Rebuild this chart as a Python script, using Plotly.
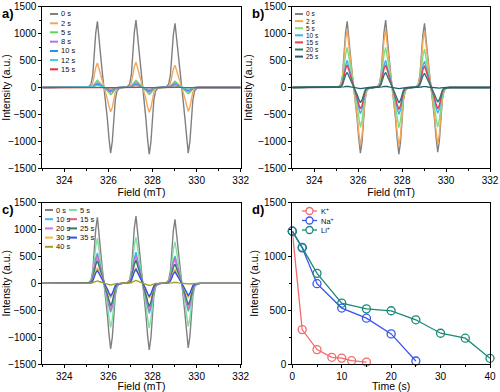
import plotly.graph_objects as go

# ---------------- data ----------------
FIELD_RANGE = [323, 332]
LINE_CENTERS = [325.8, 327.55, 329.32]
# normalised line profile (offset from line centre, mT)
PROFILE_DX = [-0.85, -0.70, -0.59, -0.51, -0.45, -0.376, -0.30, -0.224, -0.15, -0.07, 0.0,
              0.07, 0.15, 0.224, 0.30, 0.376, 0.45, 0.51, 0.59, 0.70, 0.85]
PROFILE_Y = [0, 0.01, 0.05, 0.19, 0.47, 0.82, 1.0, 0.77, 0.47, 0.2, 0,
             -0.2, -0.47, -0.77, -1.0, -0.82, -0.47, -0.19, -0.05, -0.01, 0]

A_LABELS = ["0 s", "2 s", "5 s", "8 s", "10 s", "12 s", "15 s"]
A_PEAKS = [[1230, 1250, 1190], [455, 470, 415], [135, 135, 115], [88, 92, 80],
           [62, 62, 52], [42, 44, 36], [10, 10, 8]]
A_TROUGHS = [[1220, 1240, 1220], [450, 460, 440], [130, 125, 115], [85, 85, 75],
             [55, 55, 50], [35, 35, 30], [10, 10, 8]]
A_COLORS = ["#808080", "#f5a65b", "#5fd35f", "#b673e6", "#2b8ff0", "#3dd6d0", "#e8303a"]

B_LABELS = ["0 s", "2 s", "5 s", "10 s", "15 s", "20 s", "25 s"]
B_PEAKS = [[1230, 1250, 1190], [1080, 1070, 1050], [745, 745, 715], [505, 505, 490],
           [420, 420, 405], [280, 280, 265], [25, 25, 20]]
B_TROUGHS = [[1220, 1240, 1200], [1080, 1090, 1050], [740, 745, 730], [490, 500, 480],
             [400, 410, 395], [280, 285, 270], [20, 20, 15]]
B_COLORS = ["#808080", "#f5a65b", "#7fe07f", "#3fb0f0", "#e0405a", "#2b7a6f", "#215f6e"]

C_LABELS = ["0 s", "5 s", "10 s", "15 s", "20 s", "25 s", "30 s", "35 s", "40 s"]
C_PEAKS = [[1230, 1250, 1190], [840, 855, 770], [565, 580, 510], [520, 520, 470],
           [500, 505, 450], [420, 430, 360], [290, 290, 260], [240, 260, 215], [45, 55, 20]]
C_TROUGHS = [[1220, 1240, 1200], [820, 830, 800], [540, 560, 520], [500, 510, 480],
             [480, 490, 460], [420, 430, 400], [270, 275, 260], [230, 240, 225], [30, 40, 15]]
C_COLORS = ["#808080", "#80e0a0", "#3ab8f0", "#e0607a", "#c47ae8", "#2f7d6e",
            "#f7b940", "#2f50f0", "#a0a020"]

D_NAMES = ["K<sup>+</sup>", "Na<sup>+</sup>", "Li<sup>+</sup>"]
D_COLORS = ["#f26b6b", "#3a55f0", "#1a8a7a"]
K_TIME = [0, 2, 5, 8, 10, 12, 15]
K_INT = [1235, 320, 134, 62, 55, 31, 18]
NA_TIME = [0, 2, 5, 10, 15, 20, 25]
NA_INT = [1235, 1080, 747, 520, 426, 280, 28]
LI_TIME = [0, 2, 5, 10, 15, 20, 25, 30, 35, 40]
LI_INT = [1235, 1085, 843, 566, 513, 495, 411, 286, 240, 53]

# ---------------- helpers ----------------
W, H = 500, 392
FONT = "Arial, Liberation Sans, sans-serif"


def px(x):
    return x / W


def py(y):
    return 1 - y / H


def spectrum(peaks, troughs):
    xs, ys = [FIELD_RANGE[0]], [0]
    for c, p, t in zip(LINE_CENTERS, peaks, troughs):
        for dx, v in zip(PROFILE_DX, PROFILE_Y):
            xs.append(round(c + dx, 3))
            ys.append(v * p if v > 0 else v * t)
    xs.append(FIELD_RANGE[1])
    ys.append(0)
    return xs, ys


fig = go.Figure()

panels = [
    ("x", "y", A_LABELS, A_PEAKS, A_TROUGHS, A_COLORS),
    ("x2", "y2", B_LABELS, B_PEAKS, B_TROUGHS, B_COLORS),
    ("x3", "y3", C_LABELS, C_PEAKS, C_TROUGHS, C_COLORS),
]
for xa, ya, labels, peaks, troughs, colors in panels:
    for lab, p, t, col in zip(labels, peaks, troughs, colors):
        xs, ys = spectrum(p, t)
        fig.add_trace(go.Scatter(x=xs, y=ys, mode="lines", name=lab, xaxis=xa, yaxis=ya,
                                 line=dict(color=col, width=1.4), showlegend=False))

for name, tt, vv, col in zip(D_NAMES, [K_TIME, NA_TIME, LI_TIME], [K_INT, NA_INT, LI_INT], D_COLORS):
    fig.add_trace(go.Scatter(x=tt, y=vv, mode="lines+markers", name=name, xaxis="x4", yaxis="y4",
                             line=dict(color=col, width=1.3),
                             marker=dict(symbol="circle-open", size=8, color=col,
                                         line=dict(width=1.3, color=col)),
                             showlegend=False, cliponaxis=False))

# ---------------- axes ----------------
XA = [px(42.3), px(240.7)]
XB = [px(292.3), px(490)]
YTOP = [py(168.3), py(6.7)]
YBOT = [py(364.0), py(202.7)]

common = dict(showline=True, linecolor="black", linewidth=1, mirror=True, ticks="outside",
              ticklen=3, tickwidth=1, tickcolor="black", showgrid=False, zeroline=False,
              automargin=False,
              tickfont=dict(family=FONT, size=10, color="black"))
tfont = dict(family=FONT, size=10.5, color="black")


def fieldaxis(dom, anchor):
    return dict(common, domain=dom, anchor=anchor, range=FIELD_RANGE, tick0=324, dtick=2,
                minor=dict(ticks="outside", ticklen=2, dtick=1, tickcolor="black"),
                title=dict(text="Field (mT)", font=tfont, standoff=3))


def intaxis(dom, anchor):
    return dict(common, domain=dom, anchor=anchor, range=[-1500, 1500], dtick=500,
                minor=dict(ticks="outside", ticklen=2, dtick=250, tickcolor="black"),
                title=dict(text="Intensity (a.u.)", font=tfont, standoff=3))


fig.update_layout(
    width=W, height=H, margin=dict(l=0, r=0, t=0, b=0, autoexpand=False),
    paper_bgcolor="white", plot_bgcolor="white", showlegend=False,
    font=dict(family=FONT, color="black"),
    xaxis=fieldaxis(XA, "y"), yaxis=intaxis(YTOP, "x"),
    xaxis2=fieldaxis(XB, "y2"), yaxis2=intaxis(YTOP, "x2"),
    xaxis3=fieldaxis(XA, "y3"), yaxis3=intaxis(YBOT, "x3"),
    xaxis4=dict(common, domain=XB, anchor="y4", range=[0, 40], dtick=10,
                minor=dict(ticks="outside", ticklen=2, dtick=5, tickcolor="black"),
                title=dict(text="Time (s)", font=tfont, standoff=3)),
    yaxis4=dict(common, domain=YBOT, anchor="x4", range=[0, 1500], dtick=500,
                minor=dict(ticks="outside", ticklen=2, dtick=250, tickcolor="black"),
                title=dict(text="Intensity (a.u.)", font=tfont, standoff=3)),
)

# ---------------- panel letters ----------------
for lab, x, y in [("a)", 0, 4), ("b)", 250, 4), ("c)", 0, 200), ("d)", 250, 200)]:
    fig.add_annotation(text="<b>%s</b>" % lab, xref="paper", yref="paper", x=px(x), y=py(y),
                       xanchor="left", yanchor="top", showarrow=False,
                       font=dict(family=FONT, size=13, color="black"))

# ---------------- hand-drawn legends ----------------


def legend_entry(label, color, x0, x1, y, tx, size=7.5, marker=False):
    fig.add_shape(type="line", xref="paper", yref="paper", x0=px(x0), x1=px(x1),
                  y0=py(y), y1=py(y), line=dict(color=color, width=2 if not marker else 1.3))
    if marker:
        xc = (x0 + x1) / 2
        fig.add_shape(type="circle", xref="paper", yref="paper", xsizemode="pixel",
                      ysizemode="pixel", xanchor=px(xc), yanchor=py(y), x0=-3.5, x1=3.5,
                      y0=-3.5, y1=3.5, line=dict(color=color, width=1.3), fillcolor="white")
    fig.add_annotation(text=label, xref="paper", yref="paper", x=px(tx), y=py(y),
                       xanchor="left", yanchor="middle", showarrow=False,
                       font=dict(family=FONT, size=size, color="#111111"))


a_rows = [14, 23.3, 32.3, 41.7, 51, 60, 69.3]
for lab, col, yy in zip(A_LABELS, A_COLORS, a_rows):
    legend_entry(lab, col, 50, 58, yy, 59)

b_rows = [14, 21.1, 28.2, 35.3, 42.4, 49.5, 56.6]
for lab, col, yy in zip(B_LABELS, B_COLORS, b_rows):
    legend_entry(lab, col, 295, 303, yy, 304, size=6.5)

c_rows = [210, 219.2, 228.4, 237.6, 246.8]
for i, (lab, col) in enumerate(zip(C_LABELS, C_COLORS)):
    r, cidx = divmod(i, 2)
    if cidx == 0:
        legend_entry(lab, col, 45, 53, c_rows[r], 54)
    else:
        legend_entry(lab, col, 69, 77, c_rows[r], 78)

d_rows = [211, 220.5, 230]
for lab, col, yy in zip(D_NAMES, D_COLORS, d_rows):
    legend_entry(lab, col, 302, 317, yy, 318.5, marker=True)

fig.write_html("out.html", config={"displayModeBar": False},
               post_script="document.body.style.margin='0';document.body.style.overflow='hidden';")
